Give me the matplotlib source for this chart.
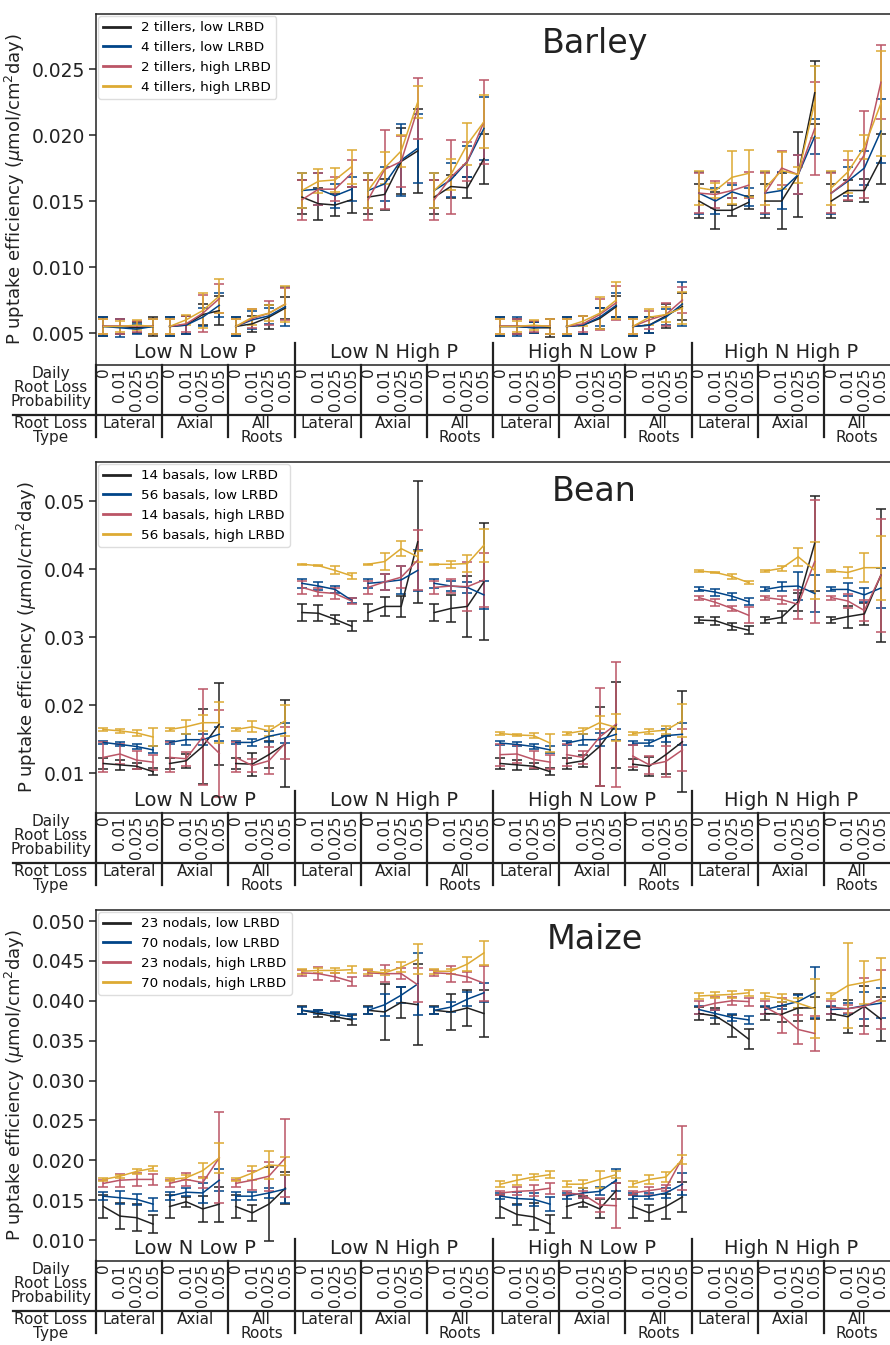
import numpy as np
import matplotlib.pyplot as plt
from matplotlib.lines import Line2D
from matplotlib.ticker import FormatStrFormatter

# categories
nutrients = ["Low N Low P", "Low N High P", "High N Low P", "High N High P"]
loss_types = ["Lateral", "Axial", "All\nRoots"]
probs = ["0", "0.01", "0.025", "0.05"]
colors = ["#222222", "#004488", "#BB5566", "#DDAA33"]

# order of every list: for each nutrient block -> lateral(4), axial(4), all roots(4)
# ---------------- Barley ----------------
barley_labels = ["2 tillers, low LRBD", "4 tillers, low LRBD",
                 "2 tillers, high LRBD", "4 tillers, high LRBD"]
barley_black = [0.0055, 0.0055, 0.0054, 0.0055, 0.0055, 0.0056, 0.0064, 0.0067, 0.0055, 0.0057, 0.0062, 0.0069,
                0.0153, 0.0148, 0.0147, 0.0151, 0.0153, 0.0155, 0.0180, 0.0188, 0.0153, 0.0161, 0.0160, 0.0182,
                0.0055, 0.0055, 0.0054, 0.0054, 0.0055, 0.0056, 0.0061, 0.0070, 0.0055, 0.0056, 0.0063, 0.0070,
                0.0150, 0.0143, 0.0143, 0.0149, 0.0150, 0.0150, 0.0170, 0.0232, 0.0150, 0.0158, 0.0158, 0.0182]
barley_blue = [0.0055, 0.0054, 0.0053, 0.0055, 0.0055, 0.0056, 0.0062, 0.0071, 0.0055, 0.0060, 0.0063, 0.0070,
               0.0158, 0.0159, 0.0154, 0.0159, 0.0158, 0.0163, 0.0181, 0.0190, 0.0158, 0.0166, 0.0180, 0.0205,
               0.0055, 0.0055, 0.0054, 0.0055, 0.0055, 0.0056, 0.0062, 0.0071, 0.0055, 0.0056, 0.0062, 0.0072,
               0.0156, 0.0150, 0.0157, 0.0153, 0.0156, 0.0158, 0.0170, 0.0199, 0.0156, 0.0165, 0.0175, 0.0203]
barley_red = [0.0055, 0.0055, 0.0055, 0.0055, 0.0055, 0.0057, 0.0065, 0.0076, 0.0055, 0.0061, 0.0065, 0.0072,
              0.0151, 0.0159, 0.0159, 0.0171, 0.0151, 0.0174, 0.0180, 0.0220, 0.0151, 0.0168, 0.0180, 0.0210,
              0.0055, 0.0055, 0.0055, 0.0055, 0.0055, 0.0057, 0.0064, 0.0073, 0.0055, 0.0060, 0.0064, 0.0075,
              0.0156, 0.0155, 0.0158, 0.0162, 0.0156, 0.0175, 0.0170, 0.0205, 0.0156, 0.0166, 0.0185, 0.0240]
barley_yellow = [0.0055, 0.0055, 0.0056, 0.0055, 0.0055, 0.0060, 0.0067, 0.0078, 0.0055, 0.0062, 0.0065, 0.0072,
                 0.0158, 0.0165, 0.0166, 0.0176, 0.0158, 0.0175, 0.0188, 0.0225, 0.0158, 0.0170, 0.0193, 0.0210,
                 0.0055, 0.0055, 0.0056, 0.0055, 0.0055, 0.0059, 0.0065, 0.0075, 0.0055, 0.0062, 0.0064, 0.0069,
                 0.0160, 0.0158, 0.0168, 0.0171, 0.0160, 0.0173, 0.0170, 0.0225, 0.0160, 0.0172, 0.0191, 0.0224]
barley_black_err = [0.0007, 0.0006, 0.0004, 0.0007, 0.0007, 0.0007, 0.0008, 0.0011, 0.0007, 0.0006, 0.0009, 0.0008,
                    0.0013, 0.0012, 0.0008, 0.0010, 0.0013, 0.0012, 0.0025, 0.0032, 0.0013, 0.0009, 0.0008, 0.0019,
                    0.0007, 0.0006, 0.0004, 0.0007, 0.0007, 0.0007, 0.0008, 0.0008, 0.0007, 0.0006, 0.0009, 0.0010,
                    0.0013, 0.0014, 0.0004, 0.0005, 0.0013, 0.0021, 0.0032, 0.0024, 0.0013, 0.0008, 0.0009, 0.0019]
barley_blue_err = [0.0007, 0.0007, 0.0004, 0.0006, 0.0007, 0.0007, 0.0007, 0.0009, 0.0007, 0.0007, 0.0006, 0.0015,
                   0.0013, 0.0012, 0.0009, 0.0009, 0.0013, 0.0013, 0.0027, 0.0026, 0.0013, 0.0013, 0.0012, 0.0024,
                   0.0007, 0.0007, 0.0004, 0.0006, 0.0007, 0.0007, 0.0007, 0.0009, 0.0007, 0.0006, 0.0006, 0.0017,
                   0.0016, 0.0010, 0.0005, 0.0007, 0.0016, 0.0014, 0.0015, 0.0013, 0.0016, 0.0011, 0.0013, 0.0024]
barley_red_err = [0.0006, 0.0006, 0.0004, 0.0006, 0.0006, 0.0006, 0.0014, 0.0011, 0.0006, 0.0007, 0.0009, 0.0012,
                  0.0015, 0.0012, 0.0009, 0.0010, 0.0015, 0.0030, 0.0019, 0.0023, 0.0015, 0.0028, 0.0015, 0.0032,
                  0.0006, 0.0006, 0.0004, 0.0006, 0.0006, 0.0006, 0.0012, 0.0013, 0.0006, 0.0007, 0.0009, 0.0010,
                  0.0015, 0.0010, 0.0006, 0.0010, 0.0015, 0.0013, 0.0015, 0.0035, 0.0015, 0.0015, 0.0033, 0.0028]
barley_yellow_err = [0.0006, 0.0004, 0.0004, 0.0006, 0.0006, 0.0004, 0.0013, 0.0013, 0.0006, 0.0006, 0.0006, 0.0014,
                     0.0013, 0.0009, 0.0009, 0.0013, 0.0013, 0.0012, 0.0012, 0.0012, 0.0013, 0.0012, 0.0016, 0.0020,
                     0.0006, 0.0004, 0.0004, 0.0006, 0.0006, 0.0004, 0.0012, 0.0014, 0.0006, 0.0006, 0.0006, 0.0012,
                     0.0013, 0.0006, 0.0020, 0.0018, 0.0013, 0.0014, 0.0006, 0.0027, 0.0013, 0.0016, 0.0009, 0.0040]

# ---------------- Bean ----------------
bean_labels = ["14 basals, low LRBD", "56 basals, low LRBD",
               "14 basals, high LRBD", "56 basals, high LRBD"]
bean_black = [0.0114, 0.0112, 0.0110, 0.0102, 0.0114, 0.0118, 0.0139, 0.0172, 0.0114, 0.0113, 0.0127, 0.0143,
              0.0336, 0.0335, 0.0326, 0.0316, 0.0336, 0.0345, 0.0345, 0.0440, 0.0336, 0.0342, 0.0345, 0.0381,
              0.0114, 0.0112, 0.0110, 0.0102, 0.0114, 0.0118, 0.0139, 0.0171, 0.0113, 0.0110, 0.0127, 0.0146,
              0.0325, 0.0324, 0.0316, 0.0310, 0.0325, 0.0329, 0.0352, 0.0438, 0.0325, 0.0330, 0.0334, 0.0391]
bean_blue = [0.0145, 0.0142, 0.0139, 0.0134, 0.0145, 0.0149, 0.0149, 0.0157, 0.0145, 0.0145, 0.0154, 0.0159,
             0.0379, 0.0375, 0.0370, 0.0354, 0.0379, 0.0381, 0.0384, 0.0398, 0.0379, 0.0375, 0.0373, 0.0362,
             0.0144, 0.0142, 0.0139, 0.0134, 0.0144, 0.0149, 0.0149, 0.0157, 0.0144, 0.0144, 0.0155, 0.0157,
             0.0370, 0.0366, 0.0360, 0.0352, 0.0370, 0.0374, 0.0375, 0.0364, 0.0370, 0.0370, 0.0362, 0.0372]
bean_red = [0.0123, 0.0128, 0.0119, 0.0116, 0.0123, 0.0121, 0.0153, 0.0129, 0.0123, 0.0111, 0.0118, 0.0144,
            0.0373, 0.0366, 0.0364, 0.0353, 0.0373, 0.0381, 0.0388, 0.0413, 0.0373, 0.0375, 0.0374, 0.0384,
            0.0127, 0.0128, 0.0120, 0.0116, 0.0127, 0.0123, 0.0153, 0.0172, 0.0125, 0.0112, 0.0117, 0.0134,
            0.0358, 0.0351, 0.0342, 0.0332, 0.0358, 0.0355, 0.0348, 0.0411, 0.0358, 0.0353, 0.0339, 0.0391]
bean_yellow = [0.0164, 0.0162, 0.0159, 0.0153, 0.0164, 0.0168, 0.0174, 0.0174, 0.0164, 0.0168, 0.0162, 0.0177,
               0.0407, 0.0405, 0.0398, 0.0390, 0.0407, 0.0411, 0.0430, 0.0418, 0.0407, 0.0407, 0.0408, 0.0435,
               0.0158, 0.0156, 0.0155, 0.0144, 0.0158, 0.0162, 0.0174, 0.0167, 0.0158, 0.0161, 0.0163, 0.0177,
               0.0397, 0.0395, 0.0389, 0.0380, 0.0397, 0.0401, 0.0418, 0.0398, 0.0397, 0.0395, 0.0402, 0.0402]
bean_black_err = [0.0008, 0.0007, 0.0004, 0.0005, 0.0008, 0.0010, 0.0055, 0.0060, 0.0008, 0.0017, 0.0020, 0.0064,
                  0.0013, 0.0012, 0.0007, 0.0007, 0.0013, 0.0014, 0.0015, 0.0090, 0.0013, 0.0020, 0.0045, 0.0086,
                  0.0008, 0.0007, 0.0004, 0.0005, 0.0008, 0.0009, 0.0058, 0.0063, 0.0008, 0.0014, 0.0028, 0.0074,
                  0.0004, 0.0006, 0.0005, 0.0006, 0.0004, 0.0009, 0.0013, 0.0070, 0.0004, 0.0016, 0.0016, 0.0098]
bean_blue_err = [0.0002, 0.0003, 0.0003, 0.0005, 0.0002, 0.0008, 0.0008, 0.0010, 0.0002, 0.0005, 0.0008, 0.0015,
                 0.0007, 0.0006, 0.0005, 0.0004, 0.0007, 0.0012, 0.0020, 0.0030, 0.0007, 0.0008, 0.0008, 0.0021,
                 0.0003, 0.0003, 0.0003, 0.0005, 0.0003, 0.0008, 0.0010, 0.0008, 0.0003, 0.0005, 0.0010, 0.0016,
                 0.0003, 0.0005, 0.0005, 0.0005, 0.0003, 0.0007, 0.0020, 0.0027, 0.0003, 0.0009, 0.0010, 0.0030]
bean_red_err = [0.0022, 0.0015, 0.0013, 0.0011, 0.0022, 0.0010, 0.0070, 0.0064, 0.0022, 0.0010, 0.0020, 0.0024,
                0.0009, 0.0006, 0.0008, 0.0005, 0.0009, 0.0012, 0.0016, 0.0044, 0.0009, 0.0010, 0.0036, 0.0040,
                0.0016, 0.0013, 0.0012, 0.0010, 0.0016, 0.0010, 0.0072, 0.0092, 0.0016, 0.0013, 0.0023, 0.0031,
                0.0003, 0.0005, 0.0004, 0.0012, 0.0003, 0.0006, 0.0021, 0.0090, 0.0003, 0.0010, 0.0015, 0.0083]
bean_yellow_err = [0.0002, 0.0003, 0.0004, 0.0013, 0.0002, 0.0010, 0.0012, 0.0030, 0.0002, 0.0008, 0.0007, 0.0023,
                   0.0001, 0.0001, 0.0006, 0.0004, 0.0001, 0.0012, 0.0011, 0.0008, 0.0001, 0.0005, 0.0012, 0.0024,
                   0.0002, 0.0002, 0.0004, 0.0013, 0.0002, 0.0004, 0.0010, 0.0020, 0.0002, 0.0004, 0.0006, 0.0024,
                   0.0001, 0.0001, 0.0004, 0.0002, 0.0001, 0.0004, 0.0013, 0.0042, 0.0001, 0.0008, 0.0021, 0.0047]

# ---------------- Maize ----------------
maize_labels = ["23 nodals, low LRBD", "70 nodals, low LRBD",
                "23 nodals, high LRBD", "70 nodals, high LRBD"]
maize_black = [0.0142, 0.0130, 0.0128, 0.0120, 0.0142, 0.0148, 0.0139, 0.0145, 0.0142, 0.0134, 0.0145, 0.0165,
               0.0388, 0.0384, 0.0380, 0.0376, 0.0388, 0.0386, 0.0398, 0.0395, 0.0388, 0.0386, 0.0391, 0.0384,
               0.0142, 0.0132, 0.0129, 0.0120, 0.0142, 0.0148, 0.0139, 0.0162, 0.0142, 0.0134, 0.0142, 0.0154,
               0.0384, 0.0381, 0.0368, 0.0352, 0.0384, 0.0383, 0.0391, 0.0391, 0.0384, 0.0380, 0.0393, 0.0377]
maize_blue = [0.0155, 0.0153, 0.0151, 0.0145, 0.0155, 0.0160, 0.0159, 0.0175, 0.0155, 0.0155, 0.0159, 0.0164,
              0.0388, 0.0386, 0.0383, 0.0380, 0.0388, 0.0395, 0.0407, 0.0421, 0.0388, 0.0392, 0.0402, 0.0410,
              0.0155, 0.0152, 0.0151, 0.0145, 0.0155, 0.0159, 0.0161, 0.0175, 0.0155, 0.0155, 0.0159, 0.0170,
              0.0389, 0.0384, 0.0379, 0.0376, 0.0389, 0.0394, 0.0399, 0.0410, 0.0389, 0.0390, 0.0394, 0.0397]
maize_red = [0.0171, 0.0175, 0.0176, 0.0176, 0.0171, 0.0176, 0.0172, 0.0203, 0.0171, 0.0175, 0.0180, 0.0203,
             0.0435, 0.0434, 0.0430, 0.0424, 0.0435, 0.0434, 0.0434, 0.0420, 0.0435, 0.0434, 0.0430, 0.0422,
             0.0159, 0.0161, 0.0162, 0.0165, 0.0159, 0.0157, 0.0144, 0.0143, 0.0159, 0.0162, 0.0165, 0.0203,
             0.0392, 0.0397, 0.0400, 0.0399, 0.0392, 0.0381, 0.0364, 0.0359, 0.0392, 0.0390, 0.0393, 0.0402]
maize_yellow = [0.0176, 0.0180, 0.0186, 0.0190, 0.0176, 0.0178, 0.0187, 0.0203, 0.0176, 0.0184, 0.0194, 0.0193,
                0.0437, 0.0438, 0.0438, 0.0439, 0.0437, 0.0435, 0.0442, 0.0452, 0.0437, 0.0437, 0.0446, 0.0460,
                0.0170, 0.0175, 0.0179, 0.0182, 0.0170, 0.0170, 0.0176, 0.0182, 0.0170, 0.0176, 0.0179, 0.0201,
                0.0406, 0.0407, 0.0408, 0.0410, 0.0406, 0.0403, 0.0397, 0.0390, 0.0406, 0.0419, 0.0423, 0.0427]
maize_black_err = [0.0014, 0.0016, 0.0017, 0.0011, 0.0014, 0.0006, 0.0016, 0.0022, 0.0014, 0.0010, 0.0046, 0.0020,
                   0.0005, 0.0004, 0.0005, 0.0006, 0.0005, 0.0035, 0.0019, 0.0051, 0.0005, 0.0023, 0.0023, 0.0030,
                   0.0015, 0.0013, 0.0017, 0.0011, 0.0015, 0.0007, 0.0012, 0.0010, 0.0015, 0.0010, 0.0016, 0.0019,
                   0.0008, 0.0010, 0.0014, 0.0012, 0.0008, 0.0010, 0.0017, 0.0014, 0.0008, 0.0021, 0.0025, 0.0028]
maize_blue_err = [0.0005, 0.0008, 0.0007, 0.0008, 0.0005, 0.0005, 0.0013, 0.0014, 0.0005, 0.0005, 0.0006, 0.0017,
                  0.0004, 0.0003, 0.0003, 0.0003, 0.0004, 0.0014, 0.0010, 0.0039, 0.0004, 0.0006, 0.0009, 0.0012,
                  0.0004, 0.0008, 0.0008, 0.0009, 0.0004, 0.0006, 0.0005, 0.0014, 0.0004, 0.0004, 0.0006, 0.0014,
                  0.0005, 0.0005, 0.0004, 0.0005, 0.0005, 0.0004, 0.0008, 0.0032, 0.0005, 0.0007, 0.0017, 0.0019]
maize_red_err = [0.0004, 0.0008, 0.0008, 0.0007, 0.0004, 0.0008, 0.0007, 0.0057, 0.0004, 0.0012, 0.0018, 0.0049,
                 0.0004, 0.0008, 0.0005, 0.0006, 0.0004, 0.0011, 0.0007, 0.0021, 0.0004, 0.0010, 0.0006, 0.0022,
                 0.0003, 0.0005, 0.0007, 0.0007, 0.0003, 0.0004, 0.0009, 0.0028, 0.0003, 0.0005, 0.0004, 0.0040,
                 0.0008, 0.0008, 0.0005, 0.0005, 0.0008, 0.0022, 0.0018, 0.0022, 0.0008, 0.0005, 0.0035, 0.0037]
maize_yellow_err = [0.0002, 0.0002, 0.0003, 0.0003, 0.0002, 0.0003, 0.0009, 0.0019, 0.0002, 0.0009, 0.0017, 0.0011,
                    0.0003, 0.0003, 0.0003, 0.0004, 0.0003, 0.0003, 0.0006, 0.0019, 0.0003, 0.0003, 0.0009, 0.0015,
                    0.0004, 0.0006, 0.0004, 0.0004, 0.0004, 0.0005, 0.0011, 0.0004, 0.0004, 0.0006, 0.0006, 0.0006,
                    0.0004, 0.0004, 0.0004, 0.0004, 0.0004, 0.0005, 0.0006, 0.0037, 0.0004, 0.0053, 0.0027, 0.0027]

# figure geometry in pixels (890 x 1345)
W, H = 890, 1345
fig = plt.figure(figsize=(W / 100, H / 100), dpi=100)

AX_LEFT, AX_W, AX_H = 96, 794, 351
LINE = "#222222"


def draw_panel(top_px, title, labels, means, errs, ylim, yticks, fmt):
    ax = fig.add_axes([AX_LEFT / W, 1 - (top_px + AX_H) / H, AX_W / W, AX_H / H])
    x = np.arange(48) + 0.45
    for m, e, c in zip(means, errs, colors):
        m = np.array(m)
        e = np.array(e)
        for g in range(12):
            s = slice(4 * g, 4 * g + 4)
            ax.errorbar(x[s], m[s], yerr=e[s], color=c, lw=1.1, elinewidth=1.1,
                        capsize=3.5, capthick=1.1)
    ax.set_xlim(0, 48)
    ax.set_ylim(*ylim)
    ax.set_yticks(yticks)
    ax.yaxis.set_major_formatter(FormatStrFormatter(fmt))
    ax.tick_params(axis="y", labelsize=13.5, length=5, width=1.1, pad=3, colors=LINE)
    ax.set_xticks(x)
    ax.set_xticklabels(probs * 12, rotation=90, fontsize=11, va="top")
    ax.tick_params(axis="x", length=0, pad=2, colors=LINE)
    for sp in ax.spines.values():
        sp.set_linewidth(1.1)
        sp.set_color(LINE)
    ax.spines["right"].set_visible(False)
    ax.set_ylabel(r"P uptake efficiency ($\mu$mol/cm$^2$day)", fontsize=13, color=LINE, labelpad=3)

    ax.text(0.628, 0.89, title, transform=ax.transAxes, fontsize=24,
            ha="center", va="baseline", color=LINE)

    handles = [Line2D([], [], color=c, lw=2) for c in colors]
    ax.legend(handles, labels, loc="upper left", fontsize=9.7, borderaxespad=0.15,
              handlelength=2.0, labelspacing=0.5, framealpha=1, edgecolor="#dddddd")

    # table-like labels under the axes
    fy = lambda px: -px / AX_H
    kw = dict(transform=ax.transAxes, clip_on=False, color=LINE, lw=1.6)
    ax.plot([(13 - AX_LEFT) / AX_W, 1.0], [fy(50), fy(50)], **kw)
    ax.plot([0, 0], [fy(72), 0], **kw)
    for i in range(1, 12):
        top = 22 / AX_H if i % 3 == 0 else 0
        ax.plot([i / 12, i / 12], [fy(72), top], **kw)

    for b, name in enumerate(nutrients):
        ax.text((12 * b + 6) / 48, 0.02, name, transform=ax.transAxes,
                fontsize=14, ha="center", va="baseline", color=LINE)
    for g in range(12):
        ax.text((4 * g + 2) / 48, fy(51), loss_types[g % 3], transform=ax.transAxes,
                fontsize=11, ha="center", va="top", linespacing=0.9, color=LINE)

    lx = (51 - AX_LEFT) / AX_W
    ax.text(lx, fy(1), "Daily\nRoot Loss\nProbability", transform=ax.transAxes,
            fontsize=11, ha="center", va="top", linespacing=0.9, color=LINE)
    ax.text(lx, fy(51), "Root Loss\nType", transform=ax.transAxes,
            fontsize=11, ha="center", va="top", linespacing=0.9, color=LINE)
    return ax


draw_panel(14, "Barley", barley_labels,
           [barley_black, barley_blue, barley_red, barley_yellow],
           [barley_black_err, barley_blue_err, barley_red_err, barley_yellow_err],
           (0.00258, 0.02917), [0.005, 0.010, 0.015, 0.020, 0.025], "%.3f")

draw_panel(462, "Bean", bean_labels,
           [bean_black, bean_blue, bean_red, bean_yellow],
           [bean_black_err, bean_blue_err, bean_red_err, bean_yellow_err],
           (0.00412, 0.05574), [0.01, 0.02, 0.03, 0.04, 0.05], "%.2f")

draw_panel(910, "Maize", maize_labels,
           [maize_black, maize_blue, maize_red, maize_yellow],
           [maize_black_err, maize_blue_err, maize_red_err, maize_yellow_err],
           (0.00737, 0.05138), [0.010, 0.015, 0.020, 0.025, 0.030, 0.035, 0.040, 0.045, 0.050], "%.3f")

fig.savefig("out.png", dpi=100)
